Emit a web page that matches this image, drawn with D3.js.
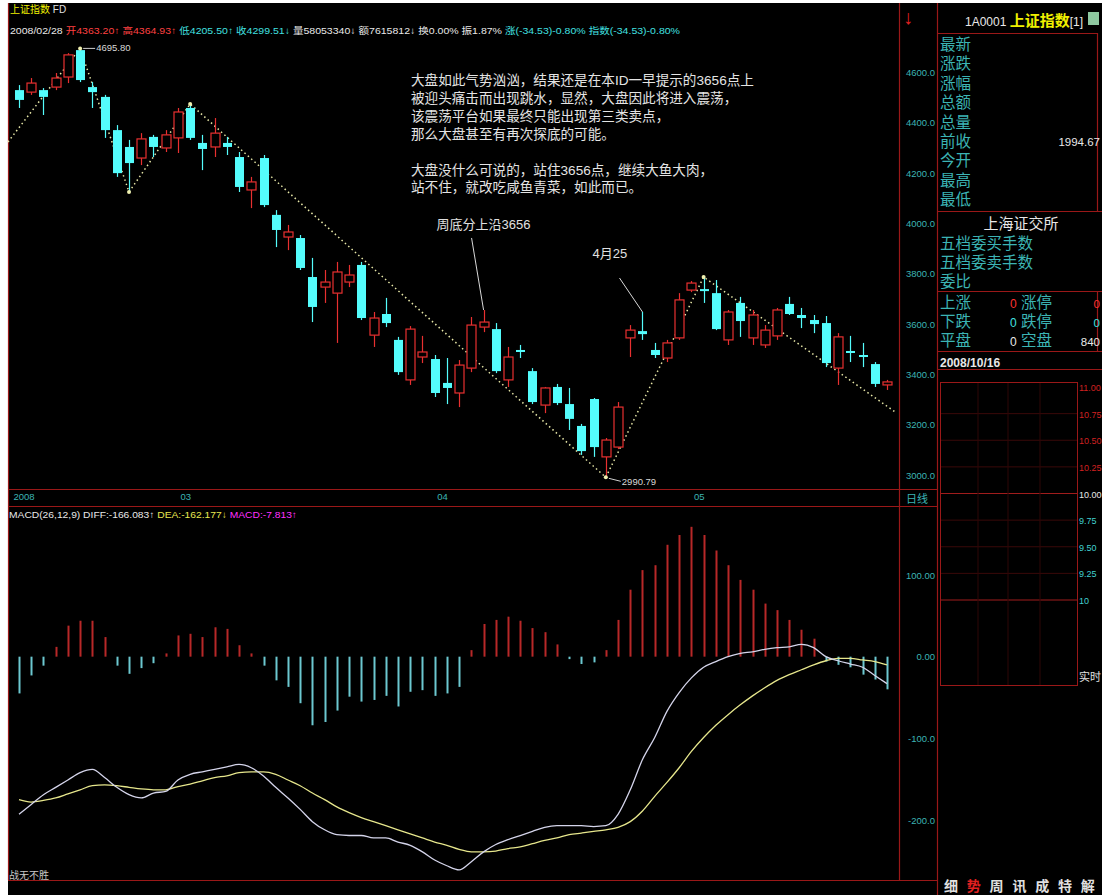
<!DOCTYPE html>
<html><head><meta charset="utf-8">
<script src="https://cdn.jsdelivr.net/npm/d3@7/dist/d3.min.js"></script>
<style>
html,body{margin:0;padding:0;background:#fff;}
svg{display:block;}
text{font-family:"Liberation Sans","Noto Sans CJK SC",sans-serif;}
</style></head><body>
<svg id="c" width="1102" height="895"></svg>
<script>
// ---- data ----
const opens  = [4530,4522,4530,4542,4582,4689,4542,4503,4371,4304,4260,4344,4300,4340,4459,4320,4304,4320,4264,4133,4260,4034,3946,3942,3787,3747,3723,3767,3835,3556,3640,3537,3378,3469,3461,3366,3326,3425,3588,3580,3378,3497,3413,3278,3350,3282,3195,3302,3072,3111,3545,3572,3497,3465,3545,3735,3739,3723,3537,3684,3545,3517,3553,3680,3636,3616,3604,3425,3493,3477,3441,3358];
const highs  = [4550,4578,4538,4598,4677,4695.8,4562,4511,4391,4332,4359,4352,4371,4459,4475,4352,4419,4344,4284,4185,4272,4053,3994,3954,3863,3815,3847,3835,3847,3648,3704,3549,3592,3553,3477,3465,3457,3628,3656,3604,3509,3517,3425,3350,3362,3346,3203,3306,3147,3290,3596,3648,3525,3537,3723,3771,3787,3775,3656,3708,3656,3596,3664,3708,3664,3636,3632,3564,3553,3525,3449,3378];
const lows   = [4459,4511,4431,4530,4558,4562,4459,4340,4185,4125,4232,4264,4284,4280,4332,4212,4264,4272,4125,4061,4065,3906,3894,3815,3608,3684,3525,3747,3616,3509,3588,3398,3358,3445,3310,3282,3270,3409,3568,3405,3350,3465,3282,3246,3278,3179,3080,3072,2990.79,3103,3469,3537,3465,3449,3537,3727,3684,3576,3517,3549,3517,3505,3537,3636,3584,3564,3429,3358,3449,3429,3350,3338];
const closes = [4491,4558,4503,4578,4670,4570,4522,4371,4200,4240,4336,4304,4352,4443,4340,4296,4359,4304,4145,4165,4073,3974,3966,3823,3668,3767,3807,3795,3624,3624,3604,3409,3580,3489,3326,3346,3437,3596,3608,3413,3469,3489,3290,3346,3286,3223,3095,3111,3139,3270,3576,3560,3477,3525,3696,3763,3731,3580,3648,3612,3636,3576,3656,3640,3624,3600,3445,3549,3485,3469,3362,3370];
const macdHist = [-45,-23,-11,12,38,44,44,24,-11,-21,-14,-8,4,26,28,24,36,34,14,4,-11,-29,-37,-57,-84,-80,-66,-49,-55,-53,-48,-61,-43,-41,-48,-45,-37,8,40,45,49,44,35,30,15,-3,-9,-7,8,45,82,106,112,137,149,159,149,130,112,94,82,65,57,45,33,22,-6,-10,-13,-22,-28,-40];
const diffLine = [-193,-181,-169,-160,-151,-142,-138,-148,-160,-169,-173,-167,-165,-151,-144,-141,-138,-135,-132,-136,-146,-160,-173,-187,-202,-212,-218,-219,-219,-222,-222,-227,-231,-239,-249,-256,-261,-251,-239,-230,-224,-219,-214,-209,-207,-207,-207,-208,-207,-193,-163,-126,-99,-67,-44,-26,-13,-6,0,4,6,9,11,12,15,11,0,-5,-9,-13,-23,-33];
const deaLine  = [-175,-178,-176,-173,-168,-163,-158,-157,-158,-160,-162,-163,-163,-159,-156,-152,-148,-146,-142,-141,-141,-144,-151,-158,-167,-175,-184,-191,-197,-202,-207,-212,-217,-222,-227,-231,-236,-239,-239,-238,-235,-233,-229,-225,-222,-218,-216,-214,-212,-209,-202,-189,-171,-154,-136,-116,-99,-84,-71,-59,-48,-38,-29,-22,-16,-10,-5,-2,-2,-4,-6,-10];
const priceTicks = [4600,4400,4200,4000,3800,3600,3400,3200,3000];
const macdTicks = [100,0,-100,-200];
const macdTickLabels = ["100.00","0.00","-100.0","-200.0"];
const monthLabels = ["2008","03","04","05"];
const monthIdx = [0,13,34,55];
const trendIdx = [-0.9,5,9,14,48,56,71.8];
const trendVal = [4324,4695.8,4125,4475,2990.79,3787,3246];
const pivotIdx = [5,9,14,48,56];
const noteLines = ["大盘如此气势汹汹，结果还是在本ID一早提示的3656点上","被迎头痛击而出现跳水，显然，大盘因此将进入震荡，","该震荡平台如果最终只能出现第三类卖点，","那么大盘甚至有再次探底的可能。","","大盘没什么可说的，站住3656点，继续大鱼大肉，","站不住，就改吃咸鱼青菜，如此而已。"];
const headerSegs = ["2008/02/28","开4363.20↑","高4364.93↑","低4205.50↑","收4299.51↓","量58053340↓","额7615812↓","换0.00%","振1.87%","涨(-34.53)-0.80%","指数(-34.53)-0.80%"];
const headerCols = ["#e8e8e8","#ff4040","#ff4040","#40e0e0","#40e0e0","#e8e8e8","#e8e8e8","#e8e8e8","#e8e8e8","#40e0e0","#40e0e0"];
const macdSegs = ["MACD(26,12,9) DIFF:-166.083↑ ","DEA:-162.177↓ ","MACD:-7.813↑"];
const macdSegCols = ["#e8e8e8","#e8e850","#ff30ff"];
const infoLabels = ["最新","涨跌","涨幅","总额","总量","前收","今开","最高","最低"];
const infoValue = "1994.67";
const orderLabels = ["五档委买手数","五档委卖手数","委比"];
const marketRows = [["上涨","0","涨停","0"],["下跌","0","跌停","0"],["平盘","0","空盘","840"]];
const marketCols = ["#ff3030","#40e0e0","#e8e8e8"];
const miniLabels = ["11.00","10.75","10.50","10.25","10.00","9.75","9.50","9.25","10"];
const miniCols = ["#d02020","#d02020","#d02020","#d02020","#e8e8e8","#40d0d0","#40d0d0","#40d0d0","#40d0d0"];
const tabs = ["细","势","周","讯","成","特","解"];

// ---- drawing ----
const svg = d3.select("#c");
const W = 1102, H = 895;
const RED = "#9a1818", TEAL = "#3cb4b4", UP = "#e83030", DOWN = "#54fcfc";
svg.append("rect").attr("width", W).attr("height", H).attr("fill", "#fff");
svg.append("rect").attr("x", 8).attr("y", 3).attr("width", W - 8).attr("height", H - 3).attr("fill", "#000");

const x = d3.scaleLinear().domain([0, 71]).range([19, 887]);
const y = d3.scaleLinear().domain([3000, 4600]).range([475, 72.5]);
const ym = d3.scaleLinear().domain([-200, 100]).range([820, 575]);

// frame lines
const frame = svg.append("g").attr("stroke", RED).attr("stroke-width", 1.2).attr("fill", "none");
[[8.5,3,8.5,880],[899.5,3,899.5,880],[937.5,3,937.5,895],[8,489.5,937,489.5],[8,506.5,937,506.5],[8,880.5,937,880.5],
 [937,33.5,1097,33.5],[1097.5,33,1097.5,211],[937,211.5,1102,211.5],[937,291.5,1102,291.5],[937,351.5,1102,351.5],[937,369.5,1102,369.5],[1097.5,291,1097.5,351]]
 .forEach(l => frame.append("line").attr("x1", l[0]).attr("y1", l[1]).attr("x2", l[2]).attr("y2", l[3]));

// header
svg.append("text").attr("x", 10).attr("y", 13).attr("font-size", 10).attr("fill", "#f0f000").text("上证指数")
  .append("tspan").attr("fill", "#e0e0e0").text(" FD");
const hdr = svg.append("text").attr("x", 10).attr("y", 34).attr("font-size", 9.5).attr("textLength", 670).attr("lengthAdjust", "spacingAndGlyphs");
headerSegs.forEach((s, i) => hdr.append("tspan").attr("fill", headerCols[i]).text(s + (i < headerSegs.length - 1 ? " " : "")));

// price axis
const pAxis = svg.append("g").attr("transform", "translate(935,0)")
  .call(d3.axisLeft(y).tickValues(priceTicks).tickFormat(d3.format(".1f")).tickSize(0).tickPadding(0));
pAxis.select(".domain").remove();
pAxis.selectAll("text").attr("fill", TEAL).attr("font-size", 9.5).attr("font-family", "Liberation Sans");
svg.append("text").attr("x", 903).attr("y", 24).attr("font-size", 20).attr("font-weight", "bold").attr("fill", "#e02020").text("↓");

// date axis
const dAxis = svg.append("g").attr("transform", "translate(0,490)")
  .call(d3.axisBottom(x).tickValues(monthIdx).tickFormat((d, i) => monthLabels[i]).tickSize(0).tickPadding(0));
dAxis.select(".domain").remove();
dAxis.selectAll("text").attr("fill", TEAL).attr("font-size", 9.5).attr("text-anchor", "start").attr("dy", "1.05em").attr("dx", (d, i) => i === 0 ? -6 : 2);
svg.append("text").attr("x", 906).attr("y", 503).attr("font-size", 11).attr("fill", TEAL).text("日线");

// trend lines
const trendLine = d3.line().x(d => x(d[0])).y(d => y(d[1]));
svg.append("path").datum(trendIdx.map((d, i) => [d, trendVal[i]]))
  .attr("d", trendLine).attr("fill", "none").attr("stroke", "#e8e8a8").attr("stroke-width", 1.5).attr("stroke-dasharray", "1.5,3");

// candles
const idx = d3.range(opens.length);
const cg = svg.append("g");
idx.forEach(i => {
  const o = opens[i], c = closes[i], up = c >= o;
  const col = up ? UP : DOWN;
  const top = y(Math.max(o, c)), bot = y(Math.min(o, c));
  const cx = Math.round(x(i)) + 0.5;
  if (up) {
    cg.append("line").attr("x1", cx).attr("x2", cx).attr("y1", y(highs[i])).attr("y2", top).attr("stroke", col).attr("stroke-width", 1.2);
    cg.append("line").attr("x1", cx).attr("x2", cx).attr("y1", bot).attr("y2", y(lows[i])).attr("stroke", col).attr("stroke-width", 1.2);
    cg.append("rect").attr("x", cx - 4.5).attr("y", top).attr("width", 9).attr("height", Math.max(1, bot - top))
      .attr("fill", "#000").attr("stroke", col).attr("stroke-width", 1.2);
  } else {
    cg.append("line").attr("x1", cx).attr("x2", cx).attr("y1", y(highs[i])).attr("y2", y(lows[i])).attr("stroke", col).attr("stroke-width", 1.2);
    cg.append("rect").attr("x", cx - 4.5).attr("y", top).attr("width", 9).attr("height", Math.max(1.5, bot - top)).attr("fill", col);
  }
});
// pivot dots
svg.append("g").selectAll("circle").data(pivotIdx).join("circle")
  .attr("cx", d => x(d)).attr("cy", (d, k) => y(trendVal[k + 1])).attr("r", 2).attr("fill", "#f0f0b0");

// peak / trough labels
const pk = 5, lo = 48;
svg.append("line").attr("x1", x(pk) + 3).attr("x2", x(pk) + 15).attr("y1", y(highs[pk])).attr("y2", y(highs[pk])).attr("stroke", "#cfcfcf");
svg.append("text").attr("x", x(pk) + 16).attr("y", y(highs[pk]) + 3).attr("font-size", 9.5).attr("fill", "#d8d8d8").text(d3.format(".2f")(highs[pk]));
svg.append("line").attr("x1", x(lo) + 3).attr("x2", x(lo) + 15).attr("y1", y(lows[lo]) + 1).attr("y2", y(lows[lo]) + 4).attr("stroke", "#cfcfcf");
svg.append("text").attr("x", x(lo) + 16).attr("y", y(lows[lo]) + 8).attr("font-size", 9.5).attr("fill", "#d8d8d8").text(d3.format(".2f")(lows[lo]));

// annotations
const a1 = 38, a2 = 51;
svg.append("line").attr("x1", x(a1) - 12).attr("y1", y(highs[a1]) - 72).attr("x2", x(a1)).attr("y2", y(highs[a1])).attr("stroke", "#d8d8d8");
svg.append("text").attr("x", x(a1) - 47).attr("y", y(highs[a1]) - 81).attr("font-size", 13).attr("fill", "#e0e0e0").text("周底分上沿3656");
svg.append("line").attr("x1", x(a2) - 23).attr("y1", y(highs[a2]) - 34).attr("x2", x(a2)).attr("y2", y(highs[a2])).attr("stroke", "#d8d8d8");
svg.append("text").attr("x", x(a2) - 50).attr("y", y(highs[a2]) - 54).attr("font-size", 13).attr("fill", "#e0e0e0").text("4月25");

const note = svg.append("g").attr("font-size", 13.6).attr("fill", "#e4e4e4");
noteLines.forEach((t, i) => note.append("text").attr("x", 411).attr("y", 85 + i * 17.9).attr("font-family", "Noto Sans CJK SC").text(t));

// MACD panel
const mh = svg.append("text").attr("x", 9).attr("y", 518).attr("font-size", 9.5).attr("textLength", 288).attr("lengthAdjust", "spacingAndGlyphs");
macdSegs.forEach((s, i) => mh.append("tspan").attr("fill", macdSegCols[i]).text(s));
const mAxis = svg.append("g").attr("transform", "translate(935,0)")
  .call(d3.axisLeft(ym).tickValues(macdTicks).tickFormat((d, i) => macdTickLabels[i]).tickSize(0).tickPadding(0));
mAxis.select(".domain").remove();
mAxis.selectAll("text").attr("fill", TEAL).attr("font-size", 9.5);

svg.append("g").selectAll("line").data(idx).join("line")
  .attr("x1", i => Math.round(x(i)) + 0.5).attr("x2", i => Math.round(x(i)) + 0.5)
  .attr("y1", ym(0)).attr("y2", i => ym(macdHist[i]))
  .attr("stroke", i => macdHist[i] >= 0 ? "#b82828" : "#6cc8d0").attr("stroke-width", 2);

const ml = d3.line().x(i => x(i)).curve(d3.curveMonotoneX);
svg.append("path").datum(idx).attr("d", ml.y(i => ym(deaLine[i]))).attr("fill", "none").attr("stroke", "#e6e68c").attr("stroke-width", 1.3);
svg.append("path").datum(idx).attr("d", ml.y(i => ym(diffLine[i]))).attr("fill", "none").attr("stroke", "#d4d4ea").attr("stroke-width", 1.3);

svg.append("text").attr("x", 9).attr("y", 879).attr("font-size", 10).attr("fill", "#c8c8c8").attr("font-family", "Noto Sans CJK SC").text("战无不胜");

// right info panel
const rp = svg.append("g").attr("font-family", "Noto Sans CJK SC");
const ttl = rp.append("text").attr("x", 965).attr("y", 26);
ttl.append("tspan").attr("font-size", 12).attr("fill", "#e8e8e8").attr("font-family", "Liberation Sans").text("1A0001 ");
ttl.append("tspan").attr("font-size", 15).attr("fill", "#f0f000").attr("font-weight", "bold").text("上证指数");
ttl.append("tspan").attr("font-size", 12).attr("fill", "#e8e8e8").text("[1]");
rp.append("rect").attr("x", 1088).attr("y", 12).attr("width", 11).attr("height", 13).attr("fill", "#8ec8a0");
infoLabels.forEach((t, i) => rp.append("text").attr("x", 940).attr("y", 50 + i * 19.4).attr("font-size", 15.5).attr("fill", TEAL).text(t));
rp.append("text").attr("x", 1100).attr("y", 146).attr("text-anchor", "end").attr("font-size", 11.5).attr("fill", "#e8e8e8").attr("font-family", "Liberation Sans").text(infoValue);
rp.append("text").attr("x", 1021).attr("y", 229).attr("text-anchor", "middle").attr("font-size", 15).attr("fill", "#e8e8e8").text("上海证交所");
orderLabels.forEach((t, i) => rp.append("text").attr("x", 940).attr("y", 249 + i * 19).attr("font-size", 15.5).attr("fill", TEAL).text(t));
marketRows.forEach((r, i) => {
  const yy = 308 + i * 19;
  rp.append("text").attr("x", 940).attr("y", yy).attr("font-size", 15.5).attr("fill", TEAL).text(r[0]);
  rp.append("text").attr("x", 1010).attr("y", yy).attr("font-size", 12).attr("fill", marketCols[i]).attr("font-family", "Liberation Sans").text(r[1]);
  rp.append("text").attr("x", 1021).attr("y", yy).attr("font-size", 15.5).attr("fill", TEAL).text(r[2]);
  rp.append("text").attr("x", 1100).attr("y", yy).attr("text-anchor", "end").attr("font-size", 11.5).attr("fill", marketCols[i]).attr("font-family", "Liberation Sans").text(r[3]);
});
rp.append("text").attr("x", 940).attr("y", 367).attr("font-size", 12).attr("font-weight", "bold").attr("fill", "#e8e8e8").attr("font-family", "Liberation Sans").text("2008/10/16");

// mini chart box
const mb = svg.append("g");
const miniY = d3.scaleLinear().domain([0, 8]).range([387, 600]);
mb.append("rect").attr("x", 940.5).attr("y", 382.5).attr("width", 137).attr("height", 303).attr("fill", "none").attr("stroke", RED);
miniLabels.forEach((t, i) => {
  const yy = miniY(i);
  if (i > 0) mb.append("line").attr("x1", 941).attr("x2", 1077).attr("y1", yy).attr("y2", yy)
    .attr("stroke", (i === 4 || i === 8) ? "#a01c1c" : "#3a0808").attr("stroke-width", (i === 4 || i === 8) ? 1.2 : 1);
  mb.append("text").attr("x", 1079).attr("y", yy + 4).attr("font-size", 9).attr("fill", miniCols[i]).text(t);
});
[978, 1008, 1040].forEach(xx => mb.append("line").attr("x1", xx).attr("x2", xx).attr("y1", 383).attr("y2", 685).attr("stroke", "#2e0606"));
mb.append("text").attr("x", 1079).attr("y", 681).attr("font-size", 11).attr("fill", "#e0e0e0").attr("font-family", "Noto Sans CJK SC").text("实时");

// bottom tabs
tabs.forEach((t, i) => svg.append("text").attr("x", 944 + i * 22.8).attr("y", 891).attr("font-size", 14).attr("font-weight", "bold")
  .attr("font-family", "Noto Sans CJK SC").attr("fill", i === 1 ? "#e02020" : "#e0e0e0").text(t));
</script>
</body></html>
